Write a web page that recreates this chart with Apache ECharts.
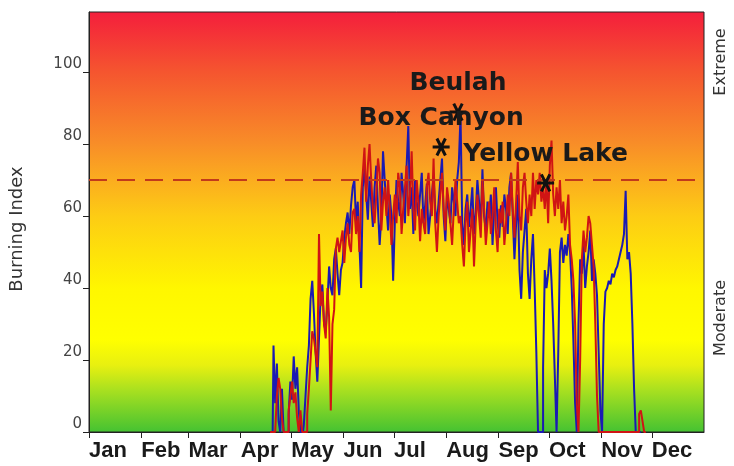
<!DOCTYPE html>
<html>
<head>
<meta charset="utf-8">
<title>Burning Index</title>
<script src="https://cdn.jsdelivr.net/npm/echarts@6.0.0/dist/echarts.min.js"></script>
<style>
  html, body { margin: 0; padding: 0; background: #fff; }
  #main { width: 734px; height: 466px; position: relative; }
  .edge { position: absolute; left: 0; top: 0; width: 2px; height: 466px; background: #555; }
</style>
</head>
<body>
<div class="edge"></div>
<div id="main"></div>
<script>
// month labels and the day of year where each month starts
const monthNames = ['Jan', 'Feb', 'Mar', 'Apr', 'May', 'Jun', 'Jul', 'Aug', 'Sep', 'Oct', 'Nov', 'Dec']
const monthStart = [0, 31, 59, 90, 120, 151, 181, 212, 243, 273, 304, 334]
const yTicks = [0, 20, 40, 60, 80, 100]

// daily burning index, first value is day 108 (Apr 18)
const startDay = 108
const blueValues = [
  0, 0, 24, 8, 19, 3, 0, 12, 0, 0,
  0, 5, 14, 9, 21, 12, 18, 6, 0, 0,
  2, 10, 18, 24, 37, 42, 33, 22, 14, 26,
  38, 41, 30, 28, 36, 46, 40, 38, 48, 51,
  44, 38, 45, 47, 54, 58, 61, 55, 63, 68,
  70, 58, 64, 52, 40, 68, 73, 66, 59, 71,
  64, 57, 68, 74, 62, 52, 60, 78, 70, 63,
  56, 66, 60, 42, 58, 70, 64, 60, 72, 66,
  58, 74, 85, 62, 68, 55, 70, 64, 60, 66,
  72, 58, 63, 69, 55, 60, 66, 71, 62, 58,
  64, 70, 76, 60, 53, 66, 62, 58, 68, 64,
  60, 70, 75, 88, 58, 52, 62, 66, 57, 62,
  68, 55, 61, 70, 64, 58, 73, 60, 56, 64,
  60, 66, 52, 62, 68, 58, 54, 63, 57, 66,
  62, 55, 68, 72, 60, 48, 58, 66, 45, 37,
  50, 56, 62, 44, 37, 48, 55, 40, 22, 0,
  0, 0, 18, 45, 40, 44, 51, 42, 30, 15,
  0, 22, 50, 54, 47, 52, 49, 55, 50, 40,
  25, 8, 0, 30, 48, 44, 52, 40, 46, 50,
  56, 42, 48, 44, 38, 22, 6, 0, 30, 39,
  40, 42, 41, 44, 43, 45, 46, 48, 50, 52,
  55, 67, 48, 50, 44, 30, 12, 0, 0, 0
]
const redValues = [
  0, 0, 0, 0, 10, 15, 12, 4, 0, 0,
  0, 6, 10, 14, 8, 11, 4, 0, 6, 0,
  0, 0, 5, 12, 20, 28, 26, 22, 18, 55,
  35, 39, 30, 26, 40, 32, 6, 30, 34, 51,
  54, 50, 53, 56, 47, 54, 58, 52, 50, 61,
  62, 55, 60, 50, 66, 72, 79, 64, 74, 80,
  70, 62, 58, 66, 76, 72, 56, 64, 68, 60,
  70, 62, 52, 60, 66, 58, 72, 68, 55, 62,
  68, 74, 60, 66, 78, 62, 56, 70, 64, 53,
  62, 58, 55, 68, 72, 64, 60, 76, 58, 50,
  60, 66, 72, 62, 56, 68, 64, 58, 52, 62,
  70, 64, 58, 60, 52, 46, 58, 64, 50, 56,
  62, 46, 58, 66, 60, 54, 70, 62, 52, 58,
  64, 55, 60, 68, 56, 50, 62, 58, 64, 52,
  58, 66, 60, 72, 62, 54, 64, 75, 60, 56,
  68, 72, 64, 58, 66, 60, 72, 62, 70, 66,
  72, 64, 68, 62, 70, 58, 74, 81, 66, 60,
  68, 62, 70, 58, 64, 56, 60, 66, 52, 48,
  42, 30, 8, 0, 20, 48, 56, 50, 54, 60,
  58, 52, 46, 30, 10, 0, 0, 0, 0, 0,
  0, 0, 0, 0, 0, 0, 0, 0, 0, 0,
  0, 0, 0, 0, 0, 0, 0, 0, 0, 5,
  6, 3, 0
]

// station maxima (asterisks)
const stationNames = ['Beulah', 'Box Canyon', 'Yellow Lake']
const stationDays = [219, 209, 271]
const stationValues = [88.9, 79.2, 69.2]

const threshold = 70

const days = []
for (let d = 0; d <= 365; d++) {
  const m = monthStart.indexOf(d)
  days.push(m >= 0 ? monthNames[m] : String(d))
}
const isMonthStart = (idx) => monthStart.indexOf(idx) >= 0

const toSeries = (vals) => {
  const out = new Array(366).fill(null)
  vals.forEach((v, i) => { out[startDay + i] = v })
  return out
}

const chart = echarts.init(document.getElementById('main'))
chart.setOption({
  animation: false,
  backgroundColor: '#fff',
  grid: {
    left: 89, right: 30, top: 12, bottom: 34,
    show: true,
    borderColor: '#222',
    borderWidth: 1,
    backgroundColor: new echarts.graphic.LinearGradient(0, 0, 0, 1, [
      { offset: 0, color: '#f41e3c' },
      { offset: 0.143, color: '#f5552f' },
      { offset: 0.31, color: '#f88c28' },
      { offset: 0.40, color: '#fbad1f' },
      { offset: 0.486, color: '#fdcc14' },
      { offset: 0.66, color: '#fff700' },
      { offset: 0.78, color: '#ffff00' },
      { offset: 0.84, color: '#e8f010' },
      { offset: 0.9, color: '#a8e020' },
      { offset: 1, color: '#44c232' }
    ])
  },
  xAxis: {
    type: 'category',
    data: days,
    boundaryGap: false,
    axisLine: { lineStyle: { color: '#222', width: 1 } },
    axisTick: { interval: isMonthStart, length: 6, lineStyle: { color: '#222' } },
    axisLabel: {
      interval: isMonthStart,
      align: 'left',
      margin: 8,
      color: '#1a1a1a',
      fontSize: 22,
      fontWeight: 'bold',
      fontFamily: 'Liberation Sans, Arial, sans-serif'
    },
    splitLine: { show: false }
  },
  yAxis: {
    type: 'value',
    min: 0,
    max: 116.7,
    interval: 20,
    axisLine: { show: true, lineStyle: { color: '#222' } },
    axisTick: { show: true, length: 6, lineStyle: { color: '#222' } },
    axisLabel: {
      showMaxLabel: false,
      margin: 7,
      verticalAlign: 'bottom',
      color: '#444',
      fontSize: 15,
      fontFamily: 'DejaVu Sans, sans-serif',
      formatter: (v) => (yTicks.indexOf(v) >= 0 ? String(v) : '')
    },
    splitLine: { show: false }
  },
  graphic: [
    {
      type: 'text', x: 17, y: 229, rotation: Math.PI / 2,
      style: { text: 'Burning Index', fill: '#333', font: '18px "DejaVu Sans", sans-serif', align: 'center', verticalAlign: 'middle' }
    },
    {
      type: 'text', x: 721, y: 62, rotation: Math.PI / 2,
      style: { text: 'Extreme', fill: '#333', font: '16px "DejaVu Sans", sans-serif', align: 'center', verticalAlign: 'middle' }
    },
    {
      type: 'text', x: 721, y: 318, rotation: Math.PI / 2,
      style: { text: 'Moderate', fill: '#333', font: '16px "DejaVu Sans", sans-serif', align: 'center', verticalAlign: 'middle' }
    }
  ],
  series: [
    {
      name: 'blue',
      type: 'line',
      step: 'middle',
      data: toSeries(blueValues),
      showSymbol: false,
      lineStyle: { color: '#1a1ab4', width: 2 },
      z: 2
    },
    {
      name: 'red',
      type: 'line',
      step: 'middle',
      data: toSeries(redValues),
      showSymbol: false,
      lineStyle: { color: '#d01414', width: 2 },
      z: 3
    },
    {
      name: 'threshold',
      type: 'line',
      data: [],
      z: 4,
      markLine: {
        silent: true,
        symbol: 'none',
        label: { show: false },
        lineStyle: { color: '#c23a1a', width: 2, type: [18, 10] },
        data: [{ yAxis: threshold }]
      }
    },
    {
      name: 'stations',
      type: 'scatter',
      z: 5,
      symbol: 'path://M-10,0L10,0M-5,-8.66L5,8.66M-5,8.66L5,-8.66',
      symbolSize: 17,
      itemStyle: { color: 'transparent', borderColor: '#111', borderWidth: 3, opacity: 1 },
      label: {
        show: true,
        position: 'top',
        distance: 6,
        formatter: (p) => stationNames[p.dataIndex],
        color: '#1a1a1a',
        opacity: 1,
        fontSize: 25,
        fontWeight: 'bold',
        fontFamily: 'DejaVu Sans, sans-serif'
      },
      data: stationDays.map((d, i) => [d, stationValues[i]])
    }
  ]
})
</script>
</body>
</html>
